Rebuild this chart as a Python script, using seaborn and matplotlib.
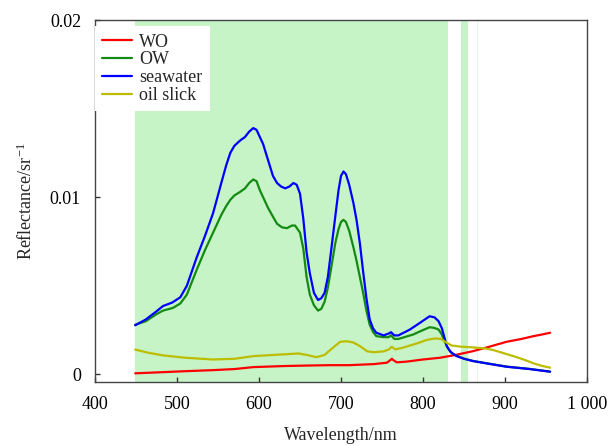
import matplotlib
matplotlib.use("Agg")
import matplotlib.pyplot as plt
import seaborn as sns
import pandas as pd

# Remote-sensing reflectance spectra (Rrs, sr^-1) against wavelength (nm)
wo_wl = [449, 480, 510, 544, 570, 593, 630, 660, 687, 710, 740, 756, 760, 762,
         764, 768, 780, 800, 821, 840, 861, 880, 902, 920, 935, 945, 955]
wo_rrs = [0.00006, 0.00012, 0.00018, 0.00024, 0.00030, 0.00041, 0.00047, 0.00050,
          0.00052, 0.00052, 0.00058, 0.00066, 0.00080, 0.00088, 0.00080, 0.00068,
          0.00072, 0.00084, 0.00094, 0.00110, 0.00131, 0.00155, 0.00184, 0.00200,
          0.00216, 0.00225, 0.00235]

ow_wl = [449, 462, 475, 483, 495, 504, 512, 518, 524, 534, 544, 554, 560, 565, 570,
         577, 583, 588, 593, 597, 601, 605, 611, 617, 622, 628, 634, 640, 644, 647,
         650, 654, 658, 662, 667, 672, 676, 680, 684, 688, 693, 697, 700, 703, 706,
         710, 715, 719, 723, 727, 731, 735, 739, 743, 752, 758, 761, 765, 770, 788,
         800, 808, 814, 819, 823, 826, 830, 835, 841, 850, 861, 880, 902, 930, 955]
ow_rrs = [0.00280, 0.00300, 0.00340, 0.00360, 0.00375, 0.00400, 0.00450, 0.00520,
          0.00590, 0.00700, 0.00800, 0.00900, 0.00950, 0.00985, 0.01010, 0.01030,
          0.01050, 0.01080, 0.01100, 0.01090, 0.01040, 0.01000, 0.00940, 0.00890,
          0.00850, 0.00830, 0.00825, 0.00840, 0.00840, 0.00820, 0.00800, 0.00710,
          0.00550, 0.00450, 0.00390, 0.00360, 0.00370, 0.00410, 0.00490, 0.00600,
          0.00740, 0.00820, 0.00860, 0.00872, 0.00860, 0.00810, 0.00720, 0.00640,
          0.00550, 0.00460, 0.00360, 0.00280, 0.00240, 0.00216, 0.00210, 0.00210,
          0.00220, 0.00200, 0.00200, 0.00225, 0.00250, 0.00266, 0.00262, 0.00253,
          0.00225, 0.00190, 0.00150, 0.00120, 0.00105, 0.00089, 0.00076, 0.00061,
          0.00044, 0.00031, 0.00016]

sw_wl = [449, 462, 475, 483, 494, 504, 512, 518, 524, 534, 544, 554, 560, 565, 570,
         577, 583, 588, 593, 597, 601, 605, 611, 617, 622, 627, 632, 637, 642, 646,
         650, 654, 658, 662, 667, 672, 676, 680, 684, 688, 693, 697, 700, 703, 706,
         710, 715, 719, 723, 727, 731, 735, 739, 743, 752, 758, 761, 765, 770, 784,
         796, 808, 814, 819, 823, 826, 829, 833, 837, 841, 850, 861, 880, 902, 930,
         955]
sw_rrs = [0.00277, 0.00310, 0.00356, 0.00386, 0.00405, 0.00435, 0.00500, 0.00580,
          0.00660, 0.00780, 0.00910, 0.01080, 0.01180, 0.01250, 0.01290, 0.01320,
          0.01340, 0.01370, 0.01390, 0.01380, 0.01340, 0.01300, 0.01210, 0.01120,
          0.01080, 0.01060, 0.01050, 0.01060, 0.01080, 0.01070, 0.01020, 0.00880,
          0.00690, 0.00570, 0.00460, 0.00420, 0.00430, 0.00460, 0.00550, 0.00700,
          0.00890, 0.01040, 0.01120, 0.01145, 0.01130, 0.01070, 0.00970, 0.00870,
          0.00740, 0.00580, 0.00430, 0.00310, 0.00260, 0.00235, 0.00220, 0.00230,
          0.00238, 0.00220, 0.00220, 0.00253, 0.00290, 0.00328, 0.00322, 0.00300,
          0.00260, 0.00210, 0.00160, 0.00130, 0.00115, 0.00103, 0.00088, 0.00075,
          0.00060, 0.00043, 0.00030, 0.00015]

os_wl = [449, 465, 483, 510, 544, 570, 593, 630, 648, 658, 670, 680, 690, 699, 707,
         715, 723, 732, 740, 752, 758, 762, 766, 775, 792, 805, 815, 822, 829, 835,
         845, 861, 875, 886, 898, 910, 922, 935, 945, 955]
os_rrs = [0.00140, 0.00122, 0.00107, 0.00094, 0.00084, 0.00088, 0.00103, 0.00113,
          0.00118, 0.00110, 0.00097, 0.00110, 0.00150, 0.00184, 0.00187, 0.00180,
          0.00160, 0.00130, 0.00125, 0.00130, 0.00140, 0.00156, 0.00141, 0.00150,
          0.00174, 0.00195, 0.00203, 0.00200, 0.00178, 0.00163, 0.00157, 0.00152,
          0.00147, 0.00137, 0.00120, 0.00103, 0.00085, 0.00062, 0.00048, 0.00038]

series_names = ["WO", "OW", "seawater", "oil slick"]
series_colors = ["#ff0000", "#138a13", "#0000ff", "#bdbd00"]

# Highlighted spectral windows (nm)
band_ranges = [(449, 830), (846, 854.5)]
thin_band = (866.2, 867.4)

x_ticks = [400, 500, 600, 700, 800, 900, 1000]
x_tick_labels = ["400", "500", "600", "700", "800", "900", "1 000"]
y_ticks = [0, 0.01, 0.02]
y_tick_labels = ["0", "0.01", "0.02"]

frames = []
for name, wl, rrs in zip(series_names,
                         [wo_wl, ow_wl, sw_wl, os_wl],
                         [wo_rrs, ow_rrs, sw_rrs, os_rrs]):
    frames.append(pd.DataFrame({"wavelength": wl, "rrs": rrs, "series": name}))
df = pd.concat(frames, ignore_index=True)

sns.set_theme(style="ticks")
plt.rcParams["font.family"] = ["Liberation Serif", "DejaVu Serif"]
plt.rcParams["mathtext.fontset"] = "custom"
plt.rcParams["mathtext.rm"] = "Liberation Serif"
plt.rcParams["mathtext.it"] = "Liberation Serif:italic"

FS = 13

fig = plt.figure(figsize=(6.16, 4.46), dpi=100)
ax = fig.add_axes([95 / 616, 1 - 382 / 446, 492 / 616, 362 / 446])

for lo, hi in band_ranges:
    ax.axvspan(lo, hi, color="#c6f4c6", lw=0, zorder=0)
ax.axvspan(*thin_band, color="#e2f8e2", lw=0, zorder=0)

sns.lineplot(data=df, x="wavelength", y="rrs", hue="series",
             hue_order=series_names, palette=series_colors,
             estimator=None, sort=False, linewidth=1.6, ax=ax, legend=True)

ax.set_xlim(400, 1000)
ax.set_ylim(-0.00043, 0.02)
ax.set_xticks(x_ticks)
ax.set_xticklabels(x_tick_labels)
ax.set_yticks(y_ticks)
ax.set_yticklabels(y_tick_labels)
ax.tick_params(direction="in", length=3.5, width=1.0, color="#333333",
               labelsize=FS, pad=10, labelcolor="black")
for side in ["top", "right", "bottom", "left"]:
    ax.spines[side].set_visible(True)
    ax.spines[side].set_color("#444444")
    ax.spines[side].set_linewidth(1.0)

ax.set_xlabel("Wavelength/nm", fontsize=FS, labelpad=10)
ax.set_ylabel(r"Reflectance/sr$^{-1}$", fontsize=FS, labelpad=10)

old = ax.get_legend()
handles = old.legend_handles
labels = [t.get_text() for t in old.texts]
for h in handles:
    h.set_linewidth(1.6)
leg = ax.legend(handles, labels, loc="upper left",
                bbox_to_anchor=(0.0, 1 - 6.5 / 362), borderaxespad=0,
                fontsize=FS, frameon=True, fancybox=False, framealpha=1,
                facecolor="white", edgecolor="none", borderpad=0.4,
                labelspacing=0.04, handlelength=1.66, handletextpad=0.4)
leg.get_frame().set_linewidth(0)

fig.savefig("out.png", dpi=100)
